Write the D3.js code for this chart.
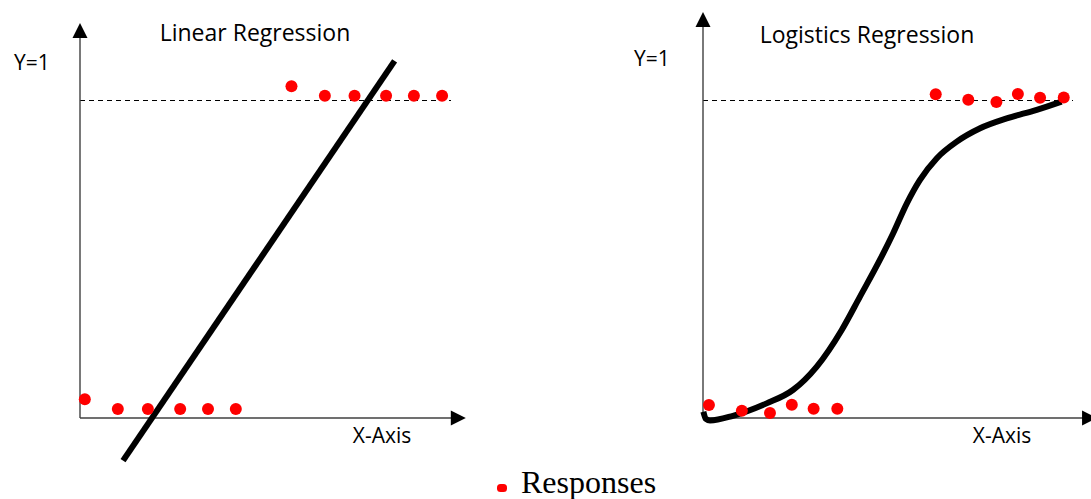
<!DOCTYPE html>
<html>
<head>
<meta charset="utf-8">
<script src="https://cdn.jsdelivr.net/npm/d3@7"></script>
<style>
  html, body { margin: 0; padding: 0; background: #fff; }
  svg { display: block; }
  text { font-family: "Open Sans", sans-serif; fill: #000; }
</style>
</head>
<body>
<svg id="chart" width="1091" height="499"></svg>
<script>
// ---------------- DATA ----------------
const panelTitles = ["Linear Regression", "Logistics Regression"];
const yLabel = "Y=1";
const xLabel = "X-Axis";
const legendLabel = "Responses";

// Linear regression panel: responses (x in 0-100, y in 0-1)
const linX = [1.3, 10.2, 18.3, 27.0, 34.5, 42.0, 57.0, 66.0, 74.0, 82.5, 90.0, 97.6];
const linY = [0.059, 0.028, 0.028, 0.028, 0.028, 0.028, 1.043, 1.013, 1.013, 1.013, 1.013, 1.013];
// fitted straight line end points
const linFitX = [11.6, 84.8];
const linFitY = [-0.134, 1.123];

// Logistic regression panel: responses
const logX = [1.6, 10.5, 18.1, 24.0, 29.9, 36.3, 62.9, 71.7, 79.3, 85.1, 91.1, 97.5];
const logY = [0.041, 0.023, 0.016, 0.042, 0.029, 0.029, 1.018, 1.001, 0.994, 1.019, 1.007, 1.008];
// fitted S-curve
const logFitX = [0.1, 0.8, 1.9, 8.1, 17.2, 24.3, 30.7, 37.5, 42.4, 47.8, 51.4, 55.1, 58.6, 63.2, 68.6, 74.9, 82.1, 90.2, 96.9];
const logFitY = [0.020, -0.003, -0.008, 0.007, 0.046, 0.088, 0.161, 0.277, 0.381, 0.497, 0.581, 0.675, 0.748, 0.817, 0.869, 0.911, 0.942, 0.969, 0.995];

// ---------------- LAYOUT ----------------
const svg = d3.select("#chart");
const panels = [
  { title: panelTitles[0], xr: [80, 451], xAxisEnd: 104, yAxisEnd: 1.242,
    titleX: 255, titleY: 41, yLabX: 32, yLabY: 70, xLabX: 382, xLabY: 443,
    px: linX, py: linY, fitX: linFitX, fitY: linFitY, curve: d3.curveLinear },
  { title: panelTitles[1], xr: [703, 1073], xAxisEnd: 106.5, yAxisEnd: 1.277,
    titleX: 867, titleY: 43, yLabX: 652, yLabY: 66, xLabX: 1002, xLabY: 443,
    px: logX, py: logY, fitX: logFitX, fitY: logFitY, curve: d3.curveMonotoneX }
];

panels.forEach(p => {
  const x = d3.scaleLinear().domain([0, 100]).range(p.xr);
  const y = d3.scaleLinear().domain([0, 1]).range([418, 100]);
  const g = svg.append("g");

  const x0 = x(0), y0 = y(0);
  const xEnd = x(p.xAxisEnd), yTop = y(p.yAxisEnd);
  const ah = 15, aw = 7.5;

  // dashed Y=1 reference line
  g.append("line")
    .attr("x1", x(0)).attr("x2", x(100))
    .attr("y1", Math.round(y(1)) + 0.5).attr("y2", Math.round(y(1)) + 0.5)
    .attr("stroke", "#000").attr("stroke-width", 1.2)
    .attr("stroke-dasharray", "5,4");

  // axes
  g.append("line")
    .attr("x1", x0).attr("y1", y0).attr("x2", xEnd - ah + 1).attr("y2", y0)
    .attr("stroke", "#404040").attr("stroke-width", 1.4);
  g.append("line")
    .attr("x1", x0).attr("y1", y0).attr("x2", x0).attr("y2", yTop + ah - 1)
    .attr("stroke", "#404040").attr("stroke-width", 1.4);
  g.append("path")
    .attr("d", `M${xEnd},${y0} L${xEnd - ah},${y0 - aw} L${xEnd - ah},${y0 + aw} Z`)
    .attr("fill", "#000");
  g.append("path")
    .attr("d", `M${x0},${yTop} L${x0 - aw},${yTop + ah} L${x0 + aw},${yTop + ah} Z`)
    .attr("fill", "#000");

  // fitted line / curve
  const fit = p.fitX.map((v, i) => [v, p.fitY[i]]);
  g.append("path")
    .datum(fit)
    .attr("d", d3.line().x(d => x(d[0])).y(d => y(d[1])).curve(p.curve))
    .attr("fill", "none").attr("stroke", "#000").attr("stroke-width", 6)
    .attr("stroke-linejoin", "round");

  // responses
  const pts = p.px.map((v, i) => [v, p.py[i]]);
  g.selectAll("circle.pt").data(pts).join("circle")
    .attr("class", "pt")
    .attr("cx", d => x(d[0])).attr("cy", d => y(d[1]))
    .attr("r", 6).attr("fill", "#ff0000");

  // texts
  g.append("text").attr("x", p.titleX).attr("y", p.titleY)
    .attr("text-anchor", "middle").attr("font-size", 23).text(p.title);
  g.append("text").attr("x", p.yLabX).attr("y", p.yLabY)
    .attr("text-anchor", "middle").attr("font-size", 21).text(yLabel);
  g.append("text").attr("x", p.xLabX).attr("y", p.xLabY)
    .attr("text-anchor", "middle").attr("font-size", 21).text(xLabel);
});

// legend
const lg = svg.append("g");
lg.append("rect").attr("x", 497).attr("y", 484).attr("width", 10).attr("height", 8)
  .attr("rx", 3.5).attr("fill", "#ff0000");
lg.append("text").attr("x", 521).attr("y", 493)
  .style("font-family", "'Liberation Serif', 'Times New Roman', serif")
  .attr("font-size", 32).text(legendLabel);
</script>
</body>
</html>
